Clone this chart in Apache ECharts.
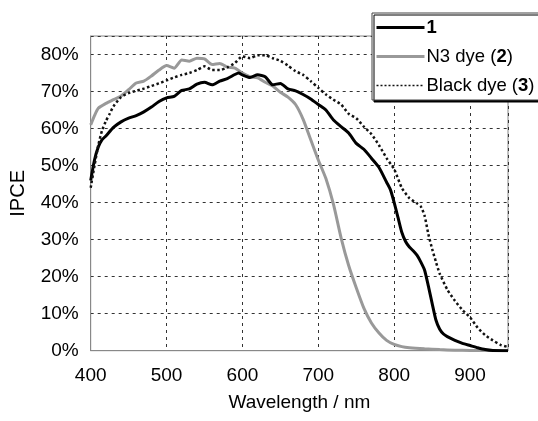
<!DOCTYPE html>
<html>
<head>
<meta charset="utf-8">
<script src="https://cdn.jsdelivr.net/npm/echarts@6/dist/echarts.min.js"></script>
<style>
html,body{margin:0;padding:0;background:#fff;}
#c{width:538px;height:421px;}
</style>
</head>
<body>
<div id="c"></div>
<script>
// Wavelength (nm) and IPCE (%) for each dye
const wl1 = [400,405,410,415,420,430,440,450,460,470,480,490,500,510,520,530,540,550,560,570,580,590,595,600,610,620,630,640,650,660,670,680,690,700,710,720,730,740,750,760,770,780,790,795,800,805,810,815,820,825,830,835,840,845,850,855,860,865,870,880,890,900,910,920,930,950];
const ipce1 = [46,51.5,55,57,58,60.3,61.8,62.8,63.5,64.5,65.8,67.3,68.3,68.7,70.3,70.7,72,72.5,71.8,72.8,73.5,74.6,75,74.5,73.8,74.5,74,71.8,72.2,70.7,70.2,69.2,68,66.5,65,62.3,60.5,58.8,56,54.4,52,49.5,45.5,43.5,40,36,32,29.5,28,27,25.8,24,21.8,17.5,12.8,8.3,5.8,4.5,3.8,2.8,2,1.4,0.8,0.3,0.05,0];

const wl2 = [400,405,410,420,430,440,450,460,470,480,490,500,510,520,530,540,550,560,570,580,590,600,610,620,630,640,650,660,670,680,690,700,710,720,730,740,750,760,770,780,790,800,810,820,840,860,880,900,950];
const ipce2 = [61,63.5,65.5,66.8,67.8,68.8,70.5,72.3,72.8,74.2,75.8,77,76.3,78.5,78.2,79,78.8,77.3,77.6,76.6,76.3,75,74,73.7,72.5,71.5,69.8,68.5,66.5,62.5,57,51.5,46.5,39.5,30.5,23,17,11.5,7.5,4.8,2.8,1.7,1.1,0.8,0.5,0.3,0.15,0.05,0];

const wl3 = [400,405,410,415,420,425,430,440,450,460,470,480,490,500,510,520,530,540,550,560,570,580,590,600,610,620,630,640,650,660,670,680,690,700,710,720,730,740,750,760,770,780,790,800,810,820,830,835,840,845,850,855,860,870,880,890,900,910,920,930,940,950];
const ipce3 = [44,50,55.5,59.5,62,64,66,68.5,69.6,70.2,70.8,71.5,72.2,73,73.8,74.5,75,75.8,76.8,75.8,75.8,76.5,77.7,79.5,79,79.8,79.8,79,78.3,77,75.5,74.5,72.8,71,69.2,67.8,66.5,64,62.8,60.5,58.5,55.5,52,49,44,41.2,39.8,39,36.5,31.5,27.5,24,20.8,16.5,13.5,11,9,6.2,4.2,2.8,1.6,1];

const seriesNames = ['1', 'N3 dye (2)', 'Black dye (3)'];
const legendRich = ['{b|1}', 'N3 dye ({b|2})', 'Black dye ({b|3})'];

const zip = (a, b) => a.map((x, i) => [x, b[i]]);
const FONT = '"Liberation Sans", Arial, Helvetica, sans-serif';

const chart = echarts.init(document.getElementById('c'), null, {renderer: 'canvas'});
chart.setOption({
  animation: false,
  backgroundColor: '#fff',
  textStyle: {fontFamily: FONT, color: '#000'},
  grid: {left: 90.7, right: 30, top: 36, bottom: 70.3, show: true, borderColor: '#888', borderWidth: 1},
  legend: {
    data: [
      {name: seriesNames[0]},
      {name: seriesNames[1]},
      {name: seriesNames[2], lineStyle: {width: 1.5, type: [2, 2]}}
    ],
    orient: 'vertical',
    left: 372, top: 13,
    padding: [5, 40, 5, 3],
    itemWidth: 48, itemHeight: 14, itemGap: 10,
    itemStyle: {opacity: 0},
    lineStyle: {width: 3},
    backgroundColor: '#fff',
    borderColor: '#444', borderWidth: 1,
    shadowColor: '#000', shadowBlur: 0, shadowOffsetX: 2, shadowOffsetY: 2,
    formatter: name => legendRich[seriesNames.indexOf(name)],
    textStyle: {
      fontFamily: FONT, fontSize: 18.5, color: '#000', padding: [0, 0, 0, -3],
      rich: {b: {fontWeight: 'bold', fontSize: 18.5, fontFamily: FONT, color: '#000'}}
    }
  },
  xAxis: {
    type: 'value', min: 400, max: 950, interval: 100,
    name: 'Wavelength / nm', nameLocation: 'middle', nameGap: 43,
    nameTextStyle: {fontSize: 19, fontFamily: FONT, color: '#000'},
    axisLine: {show: true, lineStyle: {color: '#888', width: 1}},
    axisTick: {show: false},
    axisLabel: {fontSize: 19, color: '#000', margin: 16, showMaxLabel: false, fontFamily: FONT},
    splitLine: {show: true, lineStyle: {color: '#333', width: 1, type: [3, 4]}}
  },
  yAxis: {
    type: 'value', min: 0, max: 85, interval: 10,
    name: 'IPCE', nameLocation: 'middle', nameGap: 62, nameRotate: 90,
    nameTextStyle: {fontSize: 20, fontFamily: FONT, color: '#000'},
    axisLine: {show: true, lineStyle: {color: '#888', width: 1}},
    axisTick: {show: false},
    axisLabel: {fontSize: 19, color: '#000', margin: 12, showMaxLabel: false, fontFamily: FONT,
      formatter: v => v + '%'},
    splitLine: {show: true, lineStyle: {color: '#333', width: 1, type: [3, 4]}}
  },
  series: [
    {name: seriesNames[0], type: 'line', data: zip(wl1, ipce1), symbol: 'none', smooth: 0.2,
     lineStyle: {color: '#000', width: 3}, itemStyle: {color: '#000'}, z: 4},
    {name: seriesNames[1], type: 'line', data: zip(wl2, ipce2), symbol: 'none', smooth: 0.2,
     lineStyle: {color: '#999', width: 3}, itemStyle: {color: '#999'}, z: 3},
    {name: seriesNames[2], type: 'line', data: zip(wl3, ipce3), symbol: 'none', smooth: 0.2,
     lineStyle: {color: '#111', width: 2.5, type: [2.5, 2.5]}, itemStyle: {color: '#111'}, z: 5}
  ]
});
</script>
</body>
</html>
